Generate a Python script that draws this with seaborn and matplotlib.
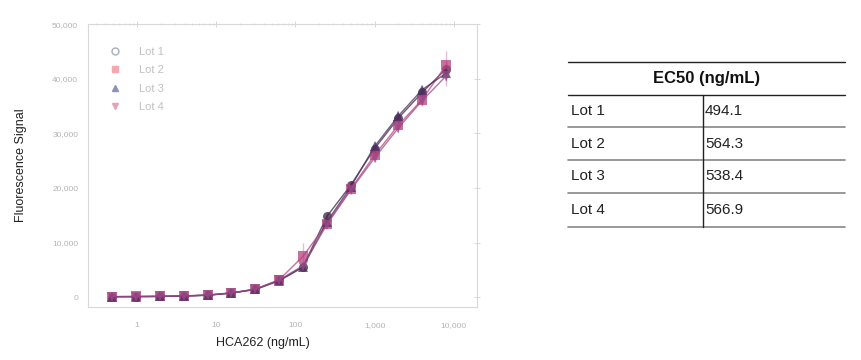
import numpy as np
import pandas as pd
import matplotlib.pyplot as plt
import seaborn as sns
from matplotlib.lines import Line2D
from matplotlib.ticker import FixedLocator, LogLocator, NullFormatter

# concentrations (2-fold dilution series), ng/mL
conc = [0.488, 0.977, 1.95, 3.91, 7.81, 15.6, 31.3, 62.5, 125, 250, 500, 1000, 2000, 4000, 8000]

lot1 = [100, 120, 150, 230, 380, 780, 1450, 3100, 5600, 14800, 20500, 27200, 32800, 37500, 41800]
lot2 = [120, 140, 180, 250, 400, 800, 1500, 3200, 7500, 13500, 19800, 26000, 31500, 36200, 42500]
lot3 = [90, 110, 150, 220, 360, 760, 1420, 3000, 5500, 13800, 20200, 27600, 33200, 38000, 41000]
lot4 = [110, 130, 170, 240, 390, 800, 1480, 3150, 5800, 13300, 19600, 25500, 31000, 36000, 40500]

sd1 = [60, 60, 60, 60, 80, 100, 150, 250, 400, 600, 700, 800, 900, 900, 1500]
sd2 = [60, 60, 60, 60, 80, 100, 150, 250, 2500, 700, 800, 900, 1000, 1000, 2500]
sd3 = [60, 60, 60, 60, 80, 100, 150, 250, 400, 600, 700, 800, 900, 900, 1500]
sd4 = [60, 60, 60, 60, 80, 100, 150, 250, 400, 600, 700, 800, 900, 900, 1800]

lots = ['Lot 1', 'Lot 2', 'Lot 3', 'Lot 4']
ec50 = ['494.1', '564.3', '538.4', '566.9']

colors = ['#3e2340', '#b8407e', '#4b2e62', '#9c4a86']
legend_colors = ['#a9aeb8', '#f2a9b0', '#8f93b3', '#e7a3b8']
markers = ['o', 's', '^', 'v']

df = pd.DataFrame({
    'conc': conc * 4,
    'signal': lot1 + lot2 + lot3 + lot4,
    'sd': sd1 + sd2 + sd3 + sd4,
    'Lot': sum([[l] * len(conc) for l in lots], []),
})

sns.set_style('white')
plt.rcParams['font.family'] = ['Liberation Sans', 'DejaVu Sans']

fig = plt.figure(figsize=(8.62, 3.6), dpi=100)
ax = fig.add_axes([0.102, 0.147, 0.451, 0.786])

for lot, c in zip(lots, colors):
    sub = df[df['Lot'] == lot]
    ax.errorbar(sub['conc'], sub['signal'], yerr=sub['sd'], fmt='none',
                ecolor=c, alpha=0.35, elinewidth=1, capsize=0, zorder=1)

sns.lineplot(data=df, x='conc', y='signal', hue='Lot', style='Lot',
             palette=colors, markers=markers, dashes=False, markersize=6.5,
             markeredgewidth=0, linewidth=1, alpha=0.75, legend=False, ax=ax)

ax.set_xscale('log')
ax.set_xlim(0.24, 19500)
ax.set_ylim(-1800, 50000)
ax.xaxis.set_major_locator(FixedLocator([1, 10, 100, 1000, 10000]))
ax.set_xticklabels(['1', '10', '100', '1,000', '10,000'])
ax.xaxis.set_minor_locator(LogLocator(base=10, subs=np.arange(2, 10)))
ax.xaxis.set_minor_formatter(NullFormatter())
ax.set_yticks([0, 10000, 20000, 30000, 40000, 50000])
ax.set_yticklabels(['0', '10,000', '20,000', '30,000', '40,000', '50,000'])

for s in ax.spines.values():
    s.set_color('#d8d8d8')
    s.set_linewidth(0.8)
ax.tick_params(which='both', colors='#d0d0d0', labelcolor='#b4b4b4',
               labelsize=6, top=True, right=True, direction='inout')
ax.tick_params(which='major', length=4, width=0.6)
ax.tick_params(which='minor', length=2, width=0.5)
ax.tick_params(axis='x', which='major', pad=9)
ax.tick_params(axis='y', which='major', pad=5)

ax.set_xlabel('HCA262 (ng/mL)', fontsize=9, color='#222222', va='center')
ax.xaxis.set_label_coords(0.45, -0.127)
ax.set_ylabel('Fluorescence Signal', fontsize=9, color='#222222', va='center')
ax.yaxis.set_label_coords(-0.172, 0.5)

handles = [Line2D([], [], linestyle='none', marker=m, color=c, markersize=5,
                  markerfacecolor='none' if m == 'o' else c, markeredgewidth=1)
           for m, c in zip(markers, legend_colors)]
leg = ax.legend(handles, lots, loc='upper left', bbox_to_anchor=(0.016, 0.955),
                frameon=False, fontsize=8, handletextpad=1.1, labelspacing=0.75)
for t in leg.get_texts():
    t.set_color('#c0c0c0')

# EC50 table
tx = fig.add_axes([0, 0, 1, 1], facecolor='none')
tx.set_axis_off()
tx.set_xlim(0, 862)
tx.set_ylim(360, 0)
x0, x1, xm = 568, 845, 703
tx.plot([x0, x1], [62, 62], color='#222222', lw=1)
tx.plot([x0, x1], [95, 95], color='#222222', lw=1)
row_lines = [127, 160, 193, 227]
for y in row_lines:
    tx.plot([x0, x1], [y, y], color='#888888', lw=1.2)
tx.plot([xm, xm], [95, 227], color='#222222', lw=1)
tx.text((x0 + x1) / 2, 78, 'EC50 (ng/mL)', ha='center', va='center',
        fontsize=12, fontweight='bold', color='#111111')
row_tops = [95] + row_lines[:-1]
for top, bot, lot, v in zip(row_tops, row_lines, lots, ec50):
    yc = (top + bot) / 2
    tx.text(x0 + 3, yc, lot, ha='left', va='center', fontsize=11, color='#222222')
    tx.text(xm + 2, yc, v, ha='left', va='center', fontsize=11, color='#222222')

fig.savefig('out.png', dpi=100)
